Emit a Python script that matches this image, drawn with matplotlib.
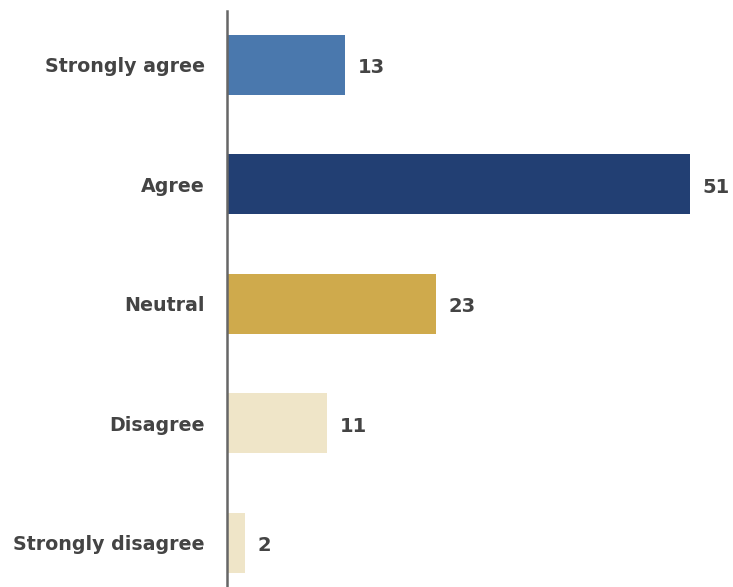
import matplotlib.pyplot as plt

categories = ["Strongly agree", "Agree", "Neutral", "Disagree", "Strongly disagree"]
values = [13, 51, 23, 11, 2]
colors = ["#4A78AD", "#223F73", "#CFAA4C", "#EFE5C8", "#EFE5C8"]

TEXT = "#444444"

fig = plt.figure(figsize=(7.33, 5.87), dpi=100)
# axes box in pixel terms: left edge at 227, top at 11, running off the bottom
ax = fig.add_axes([227 / 733, 0.0, (56 * 9.08) / 733, 576 / 587])

pos = list(range(len(categories)))
ax.barh(pos, values, height=0.5, color=colors, zorder=2)

ax.set_ylim(len(categories) - 1 + 0.37, -0.45)
ax.set_xlim(0, 56)

for p, v in zip(pos, values):
    ax.annotate(str(v), (v, p), xytext=(9, -2), textcoords="offset points",
                ha="left", va="center", fontsize=14, fontweight="bold", color=TEXT)

ax.set_yticks(pos)
ax.set_yticklabels(categories, fontsize=13.7, fontweight="bold", color=TEXT)
ax.tick_params(axis="y", length=0, pad=16)
ax.set_xticks([])

for side in ["top", "right", "bottom"]:
    ax.spines[side].set_visible(False)
ax.spines["left"].set_color("#666666")
ax.spines["left"].set_linewidth(1.8)

fig.savefig("out.png", dpi=100)
